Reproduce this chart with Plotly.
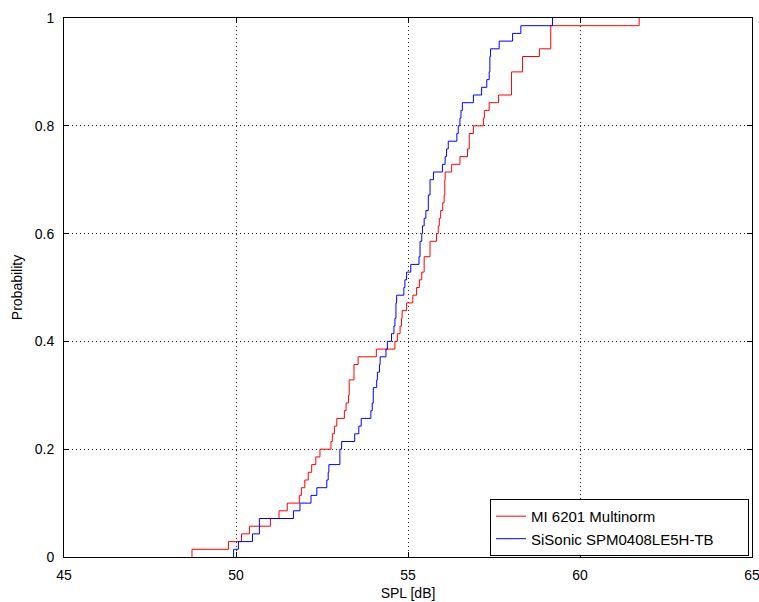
import numpy as np
import plotly.graph_objects as go

# Sorted SPL samples (dB) read from the empirical CDF steps (n = 70 each)
mi6201_spl = [
    48.72, 49.78, 50.16, 50.39, 51.00, 51.25, 51.49, 51.84, 51.90, 52.00,
    52.10, 52.20, 52.32, 52.44, 52.76, 52.80, 52.86, 52.93, 53.15, 53.20,
    53.27, 53.29, 53.29, 53.43, 53.43, 53.55, 54.08, 54.62, 54.69, 54.77,
    54.81, 54.83, 54.96, 55.14, 55.25, 55.33, 55.40, 55.47, 55.47, 55.64,
    55.64, 55.83, 55.88, 55.91, 55.95, 56.01, 56.05, 56.07, 56.07, 56.08,
    56.27, 56.51, 56.73, 56.78, 56.78, 56.90, 57.19, 57.22, 57.36, 57.63,
    58.01, 58.01, 58.01, 58.33, 58.33, 58.82, 59.15, 59.15, 59.15, 61.72,
]
sisonic_spl = [
    49.93, 50.07, 50.48, 50.68, 50.68, 51.67, 51.86, 52.18, 52.35, 52.64,
    52.68, 52.70, 53.02, 53.02, 53.07, 53.45, 53.57, 53.64, 53.92, 53.96,
    53.99, 53.99, 54.09, 54.11, 54.17, 54.19, 54.36, 54.40, 54.52, 54.59,
    54.62, 54.65, 54.65, 54.67, 54.88, 54.91, 54.96, 55.08, 55.32, 55.35,
    55.35, 55.40, 55.42, 55.47, 55.52, 55.59, 55.59, 55.64, 55.64, 55.74,
    56.00, 56.08, 56.12, 56.17, 56.42, 56.46, 56.51, 56.54, 56.58, 56.90,
    57.14, 57.29, 57.36, 57.38, 57.38, 57.40, 57.65, 58.04, 58.28, 59.20,
]

series_names = ["MI 6201 Multinorm", "SiSonic SPM0408LE5H-TB"]
series_colors = ["#ff0000", "#0000ff"]

x_ticks = [45, 50, 55, 60, 65]
y_ticks = [0, 0.2, 0.4, 0.6, 0.8, 1]

# invisible right padding inside the legend box (MATLAB legends are roomier)
legend_pad = "\u00a0" * 7


def ecdf(samples):
    s = np.sort(np.asarray(samples, dtype=float))
    vals, counts = np.unique(s, return_counts=True)
    p = np.cumsum(counts) / len(s)
    xs = np.concatenate([[vals[0]], vals])
    ys = np.concatenate([[0.0], p])
    return xs, ys


fig = go.Figure()
for data, name, color in zip([mi6201_spl, sisonic_spl], series_names, series_colors):
    xs, ys = ecdf(data)
    fig.add_trace(go.Scatter(
        x=xs, y=ys, mode="lines", name=name + legend_pad,
        line=dict(color=color, width=1, shape="hv"),
    ))

font_family = "Liberation Sans, Arial, Helvetica, sans-serif"

axis_common = dict(
    showline=True, linecolor="black", linewidth=1, mirror="ticks",
    ticks="inside", ticklen=5, tickcolor="black",
    showgrid=True, gridcolor="#222222", griddash="1px,3px", gridwidth=1,
    zeroline=False, automargin=False, ticklabeloverflow="allow",
    tickfont=dict(family=font_family, size=14, color="black"),
)

fig.update_layout(
    width=759, height=602,
    margin=dict(l=64, r=7, t=18, b=45),
    paper_bgcolor="white", plot_bgcolor="white",
    font=dict(family=font_family, size=14, color="black"),
    showlegend=True,
    legend=dict(
        x=0.9956, y=0.002, xanchor="right", yanchor="bottom",
        bgcolor="white", bordercolor="black", borderwidth=1,
        font=dict(family=font_family, size=15, color="black"),
        tracegroupgap=0, itemwidth=30,
    ),
    xaxis=dict(
        range=[45, 65], tickvals=x_ticks,
        title=dict(text="SPL [dB]", standoff=6, font=dict(size=14)),
        ticklabelstandoff=5,
        **axis_common,
    ),
    yaxis=dict(
        range=[0, 1], tickvals=y_ticks,
        title=dict(text="Probability", standoff=8, font=dict(size=14)),
        ticklabelstandoff=6,
        **axis_common,
    ),
)

fig.write_html("out.html")
